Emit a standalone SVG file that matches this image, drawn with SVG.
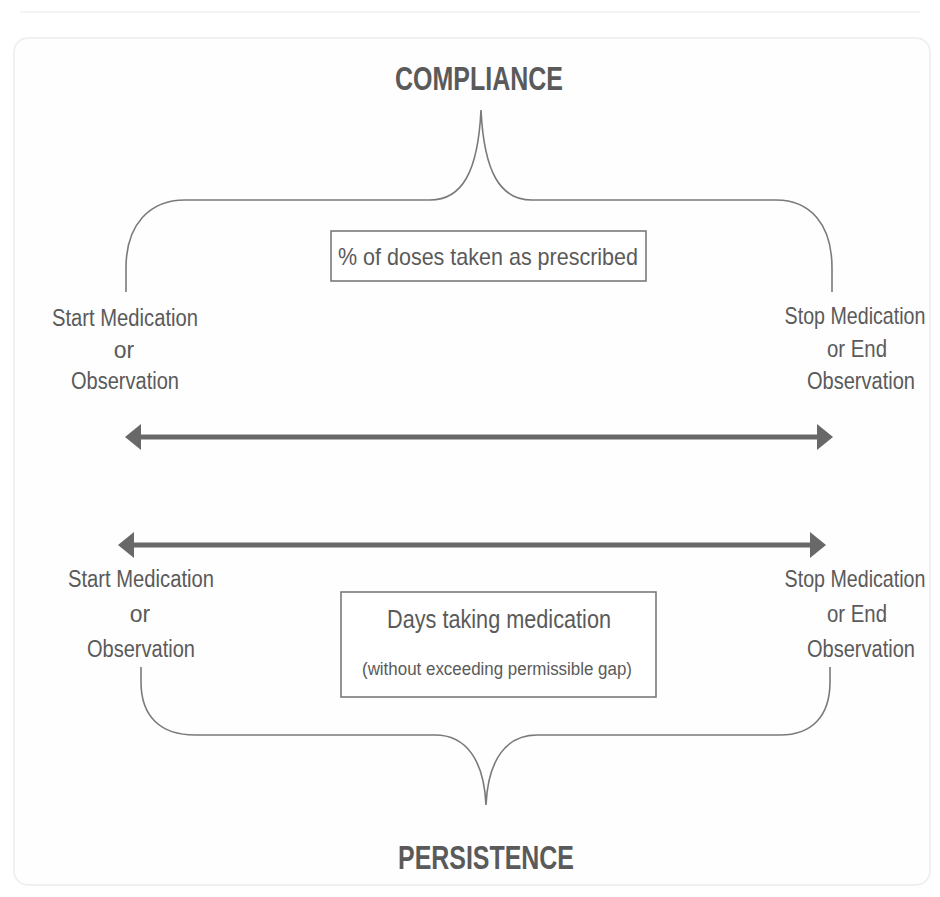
<svg xmlns="http://www.w3.org/2000/svg" width="940" height="897" viewBox="0 0 940 897">
<defs>
<style>
.t{font-family:"Liberation Sans Narrow","Liberation Sans",Arial,sans-serif;fill:#5a5a5a;text-anchor:middle}
.title{font-size:33px;font-weight:bold}
.lab{font-size:23px}
.brace{fill:none;stroke:#7a7a7a;stroke-width:1.6}
.box{fill:#fff;stroke:#7a7a7a;stroke-width:1.6}
.arr{stroke:#686868;stroke-width:5;fill:none}
</style>
<marker id="ah" viewBox="0 0 16 26" refX="0" refY="13" markerWidth="16" markerHeight="26" markerUnits="userSpaceOnUse" orient="auto-start-reverse">
<path d="M0,0 L16,13 L0,26 Z" fill="#686868"/>
</marker>
</defs>
<rect width="940" height="897" fill="#fff"/>
<rect x="14" y="38" width="916" height="847" rx="14" fill="#fefefe" stroke="#f0f0f0" stroke-width="2"/>
<line x1="20" y1="12" x2="920" y2="12" stroke="#f4f4f4" stroke-width="2"/>

<g id="compliance">
<text class="t title" x="479" y="90" textLength="168" lengthAdjust="spacingAndGlyphs">COMPLIANCE</text>
</g>
<g id="persistence">
<text class="t title" x="486" y="869" textLength="176" lengthAdjust="spacingAndGlyphs">PERSISTENCE</text>
</g>

<g id="doses-box">
<rect class="box" x="331" y="231" width="315" height="50"/>
<text class="t lab" style="font-size:24px" x="488" y="265" textLength="300" lengthAdjust="spacingAndGlyphs">% of doses taken as prescribed</text>
</g>

<g id="days-box">
<rect class="box" x="341" y="592" width="315" height="105"/>
<text class="t lab" style="font-size:25px" x="499" y="628" textLength="224" lengthAdjust="spacingAndGlyphs">Days taking medication</text>
<text class="t" style="font-size:18px" x="497" y="675" textLength="270" lengthAdjust="spacingAndGlyphs">(without exceeding permissible gap)</text>
</g>

<g id="start-top">
<text class="t lab" x="125" y="326" textLength="146" lengthAdjust="spacingAndGlyphs">Start Medication</text>
<text class="t lab" x="124" y="358">or</text>
<text class="t lab" x="125" y="389" textLength="108" lengthAdjust="spacingAndGlyphs">Observation</text>
</g>
<g id="stop-top">
<text class="t lab" transform="translate(855,324) scale(0.855,1)" x="0" y="0">Stop Medication</text>
<text class="t lab" x="857" y="357" textLength="60" lengthAdjust="spacingAndGlyphs">or End</text>
<text class="t lab" x="861" y="389" textLength="108" lengthAdjust="spacingAndGlyphs">Observation</text>
</g>
<g id="start-bottom">
<text class="t lab" x="141" y="587" textLength="146" lengthAdjust="spacingAndGlyphs">Start Medication</text>
<text class="t lab" x="140" y="622">or</text>
<text class="t lab" x="141" y="657" textLength="108" lengthAdjust="spacingAndGlyphs">Observation</text>
</g>
<g id="stop-bottom">
<text class="t lab" transform="translate(855,587) scale(0.855,1)" x="0" y="0">Stop Medication</text>
<text class="t lab" x="857" y="622" textLength="60" lengthAdjust="spacingAndGlyphs">or End</text>
<text class="t lab" x="861" y="657" textLength="108" lengthAdjust="spacingAndGlyphs">Observation</text>
</g>

<g id="connectors">
<path class="brace" d="M126,292 L126,268 C126,224 150,200 185,200 L430,200 C462,200 478,172 481,110 C484,172 500,200 532,200 L776,200 C810,200 832,224 832,268 L832,292"/>
<path class="brace" d="M141,667 L141,682 C141,716 160,735 195,735 L435,735 C466,735 484,760 486,805 C488,760 506,735 537,735 L780,735 C812,735 830,716 830,682 L830,667"/>
<line class="arr" x1="141" y1="437" x2="817" y2="437" marker-start="url(#ah)" marker-end="url(#ah)"/>
<line class="arr" x1="134" y1="545" x2="810" y2="545" marker-start="url(#ah)" marker-end="url(#ah)"/>
</g>
</svg>
